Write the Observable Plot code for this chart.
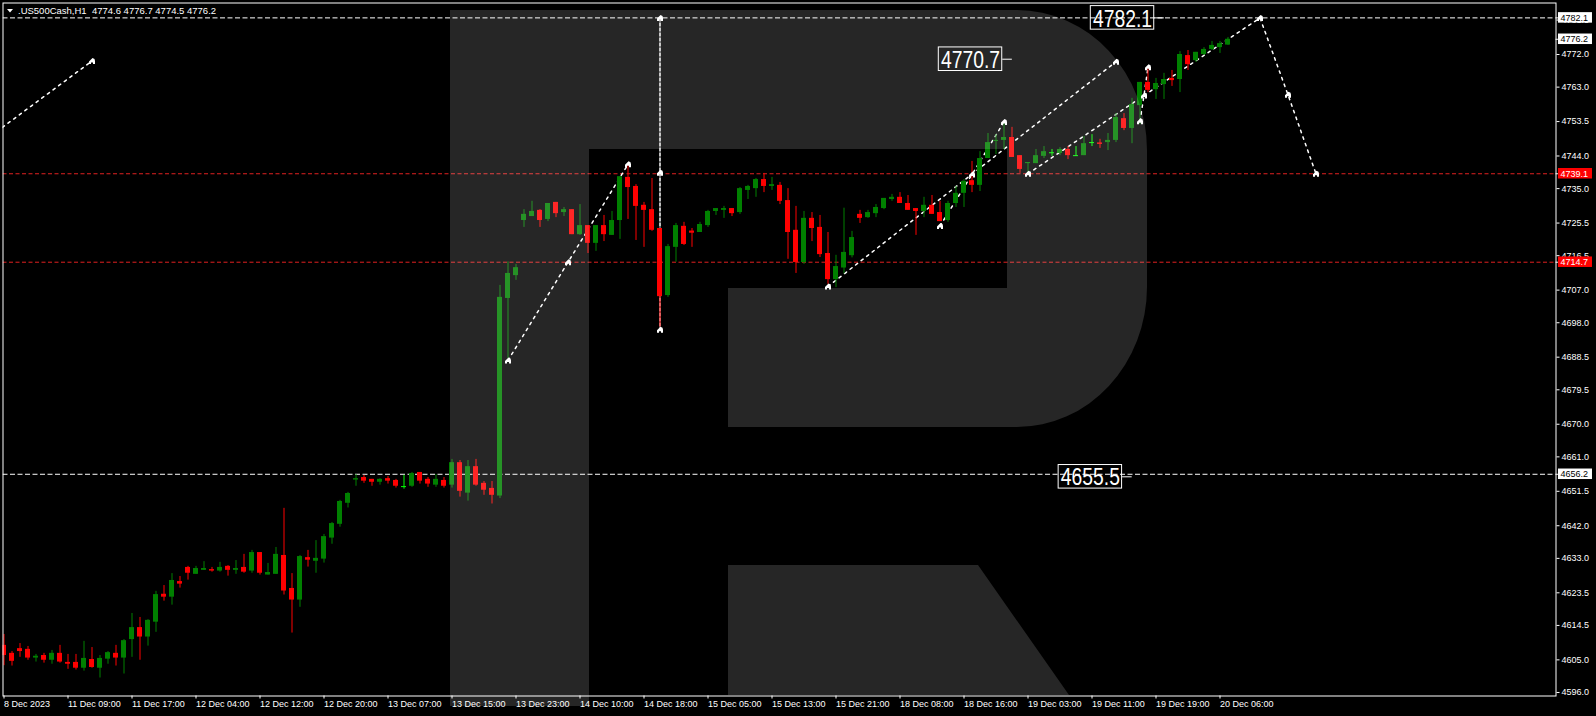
<!DOCTYPE html>
<html><head><meta charset="utf-8">
<script src="https://cdn.jsdelivr.net/npm/d3@7"></script>
<script src="https://cdn.jsdelivr.net/npm/@observablehq/plot@0.6"></script>
<style>
html,body{margin:0;padding:0;background:#000;overflow:hidden;}
#wrap{position:relative;width:1596px;height:716px;background:#000;}
#wrap svg{position:absolute;left:0;top:0;}
</style></head><body><div id="wrap"></div>
<script>
// ---- data (H1 candles, bar index 0..153) ----
const opens = [4609.0,4606.8,4608.1,4607.9,4605.5,4606.2,4604.9,4606.8,4604.3,4604.3,
4602.7,4605.1,4602.7,4605.2,4606.8,4605.5,4610.6,4613.9,4611.3,4615.4,
4623.1,4622.3,4626.6,4630.5,4628.6,4629.7,4629.9,4629.5,4630.8,4629.7,
4630.5,4629.5,4634.6,4628.4,4628.6,4633.8,4624.7,4621.5,4633.2,4632.2,
4632.8,4638.6,4642.4,4648.2,4654.6,4655.3,4654.8,4654.0,4655.0,4654.5,
4652.8,4652.9,4656.7,4654.8,4653.2,4654.5,4653.2,4659.4,4651.0,4658.3,
4653.7,4652.3,4650.2,4704.7,4711.0,4726.2,4727.3,4729.0,4726.5,4731.2,
4728.4,4729.2,4722.3,4724.8,4719.9,4724.8,4722.1,4726.2,4738.1,4735.6,
4730.4,4729.2,4724.0,4705.5,4718.8,4724.6,4723.3,4722.9,4724.8,4728.7,
4729.0,4729.5,4728.4,4734.5,4735.0,4737.5,4735.6,4735.9,4731.7,4723.5,
4714.6,4726.8,4724.3,4717.1,4709.9,4713.1,4716.5,4727.9,4727.0,4728.1,
4729.5,4732.0,4732.6,4730.9,4729.5,4728.7,4730.4,4728.4,4726.2,4730.9,
4733.7,4737.2,4735.9,4743.3,4748.0,4748.3,4749.1,4744.1,4741.9,4741.9,
4743.9,4744.9,4744.7,4745.8,4744.1,4744.1,4747.7,4747.6,4747.7,4748.3,
4754.3,4751.6,4757.9,4764.3,4762.3,4763.7,4765.4,4765.1,4771.7,4770.3,
4772.0,4773.4,4773.9,4774.6];
const highs = [4612.0,4607.3,4609.5,4608.7,4606.5,4606.8,4607.6,4609.0,4606.5,4606.5,
4610.1,4608.4,4606.2,4607.3,4609.0,4610.6,4617.8,4616.7,4616.1,4623.9,
4625.5,4628.8,4628.0,4630.8,4630.8,4632.1,4630.5,4631.9,4631.0,4632.4,
4634.1,4635.2,4634.6,4631.6,4636.0,4646.8,4628.8,4633.8,4635.2,4637.9,
4639.6,4642.9,4649.0,4651.2,4656.1,4655.9,4654.8,4655.0,4655.6,4654.8,
4655.9,4656.7,4656.7,4655.3,4656.1,4655.3,4660.3,4660.0,4660.0,4660.3,
4654.2,4654.2,4708.3,4714.8,4714.1,4729.2,4731.5,4729.2,4730.9,4731.2,
4729.8,4729.2,4730.6,4724.8,4724.8,4727.6,4728.7,4738.3,4741.4,4736.1,
4731.2,4737.8,4724.0,4719.6,4725.4,4725.7,4724.0,4725.7,4729.0,4729.5,
4730.1,4729.5,4735.3,4735.9,4737.8,4739.2,4738.1,4736.7,4735.0,4730.1,
4728.7,4728.4,4727.6,4722.9,4716.6,4729.6,4723.2,4729.0,4729.0,4730.6,
4732.3,4733.4,4733.9,4733.1,4729.5,4732.6,4733.1,4731.5,4731.5,4735.6,
4737.5,4742.5,4745.2,4750.2,4749.9,4753.0,4751.9,4744.1,4742.2,4745.8,
4746.6,4745.8,4746.3,4746.6,4746.6,4749.4,4749.9,4748.6,4750.2,4755.7,
4755.7,4759.9,4764.3,4768.7,4765.4,4766.8,4767.6,4772.8,4773.1,4772.6,
4773.9,4775.6,4775.6,4776.7];
const lows = [4603.4,4603.3,4605.7,4604.9,4604.4,4604.1,4603.8,4604.1,4602.4,4602.2,
4601.9,4602.7,4600.0,4603.8,4603.3,4601.1,4605.7,4604.9,4608.8,4612.6,
4621.2,4620.1,4624.8,4627.0,4628.6,4629.7,4629.2,4629.2,4628.1,4628.6,
4628.9,4628.9,4628.4,4628.4,4628.6,4622.9,4612.4,4619.5,4630.6,4628.9,
4631.7,4636.9,4641.6,4646.9,4652.9,4653.7,4652.9,4653.2,4653.5,4652.4,
4652.1,4652.6,4653.5,4652.6,4652.6,4652.4,4652.4,4649.9,4648.8,4652.9,
4650.4,4648.0,4649.5,4688.1,4709.7,4724.3,4727.3,4724.3,4725.9,4727.0,
4727.3,4722.3,4722.1,4717.1,4717.7,4720.4,4722.1,4721.0,4726.5,4720.7,
4718.8,4723.2,4696.8,4705.0,4714.7,4719.3,4718.8,4722.9,4724.3,4727.6,
4726.8,4727.3,4727.9,4732.0,4732.6,4733.9,4734.5,4730.6,4715.5,4711.6,
4714.1,4720.4,4716.0,4708.6,4707.7,4711.5,4715.9,4725.4,4726.8,4727.0,
4729.2,4731.5,4730.9,4729.0,4722.1,4727.0,4727.9,4725.9,4725.7,4729.8,
4729.8,4733.9,4734.2,4743.3,4744.4,4745.8,4743.6,4739.2,4739.2,4741.9,
4743.3,4743.9,4744.1,4743.0,4743.9,4744.1,4746.6,4746.1,4745.5,4747.7,
4751.0,4747.4,4752.7,4761.5,4759.6,4759.6,4763.2,4761.5,4767.6,4769.8,
4771.7,4773.1,4772.3,4774.5];
const closes = [4606.2,4604.6,4607.3,4605.5,4606.0,4604.9,4606.8,4604.4,4603.8,4602.7,
4605.4,4602.9,4605.4,4607.0,4605.5,4610.3,4613.9,4611.3,4615.9,4623.0,
4622.3,4626.9,4625.9,4628.9,4630.2,4630.2,4629.5,4630.5,4629.7,4630.2,
4629.2,4634.6,4628.9,4629.1,4634.1,4624.0,4621.5,4633.5,4632.5,4633.0,
4639.0,4642.6,4648.7,4650.9,4655.0,4654.3,4654.0,4654.8,4654.3,4652.9,
4652.8,4656.4,4654.3,4653.5,4654.8,4652.9,4659.4,4651.5,4658.3,4653.2,
4651.8,4650.4,4705.0,4711.6,4713.2,4727.9,4728.7,4726.2,4730.9,4728.1,
4729.2,4722.3,4724.8,4719.9,4724.8,4722.3,4726.2,4738.3,4735.3,4730.1,
4729.0,4723.5,4705.2,4719.0,4724.8,4719.6,4722.7,4725.1,4728.7,4729.5,
4729.5,4728.1,4735.0,4735.6,4737.5,4735.6,4736.1,4731.5,4722.9,4714.6,
4726.8,4724.0,4716.8,4709.9,4713.5,4717.4,4721.5,4726.8,4728.4,4729.8,
4732.3,4732.6,4730.9,4729.0,4728.7,4730.4,4727.9,4725.9,4730.9,4733.7,
4737.0,4735.9,4743.3,4747.7,4748.3,4749.1,4743.6,4740.3,4742.2,4744.1,
4745.2,4744.9,4745.8,4744.1,4744.1,4747.4,4747.7,4747.2,4748.3,4754.6,
4751.6,4758.2,4764.3,4762.1,4764.0,4765.1,4764.8,4772.0,4769.2,4772.6,
4773.4,4774.5,4775.0,4776.2];

const timeLabels = ["8 Dec 2023","11 Dec 09:00","11 Dec 17:00","12 Dec 04:00","12 Dec 12:00","12 Dec 20:00","13 Dec 07:00","13 Dec 15:00","13 Dec 23:00","14 Dec 10:00","14 Dec 18:00","15 Dec 05:00","15 Dec 13:00","15 Dec 21:00","18 Dec 08:00","18 Dec 16:00","19 Dec 03:00","19 Dec 11:00","19 Dec 19:00","20 Dec 06:00"];
const timeLabelBars = [0,8,16,24,32,40,48,56,64,72,80,88,96,104,112,120,128,136,144,152];
const priceTicks = [4596.0,4605.0,4614.5,4623.5,4633.0,4642.0,4651.5,4661.0,4670.0,4679.5,4688.5,4698.0,4707.0,4716.5,4725.5,4735.0,4744.0,4753.5,4763.0,4772.0,4781.5];

// horizontal levels
const whiteLevels = [4782.1, 4656.2];
const redLevels = [4739.1, 4714.7];

// forecast paths
const fcPath  = ["a","a","b","b","b","d","d","e","e","e","f","f","f","f","f","g","g","g"];
const fcBar   = [-0.2,11, 63,70.5,78, 103,139, 117,121,125, 128,142.5,157,160.5,164, 142,142.5,143];
const fcPrice = [4751.9,4770.2, 4687.6,4714.7,4741.7, 4708.0,4770.0, 4724.7,4738.9,4753.4, 4739.1,4760.7,4782.1,4760.9,4739.1, 4753.6,4760.7,4768.5];
const vBar = [82, 82];
const vPrice = [4782.1, 4696.1];
const markerBar   = [11,63,70.5,78,82,82,82,103,139,117,121,125,128,142,142.5,143,157,160.5,164];
const markerPrice = [4770.2,4687.6,4714.7,4741.7,4782.1,4739.4,4696.1,4708.0,4770.0,4724.7,4738.9,4753.4,4739.1,4753.6,4760.7,4768.5,4782.1,4760.9,4739.1];

// boxed price annotations
const annotText = ["4782.1","4770.7","4655.5"];
const annotPrice = [4782.1, 4770.7, 4655.5];
const annotEndBar = [143.78, 124.78, 139.76];

// right-axis price tags
const tagPrice = [4782.1, 4776.2, 4739.1, 4714.7, 4656.2];
const tagKind  = ["white","white","red","red","white"];

const header = ".US500Cash,H1  4774.6 4776.7 4774.5 4776.2";

// ---- build ----
const bars = opens.map((o,i)=>({i, open:o, high:highs[i], low:lows[i], close:closes[i]}));
const candleColor = d => d.close > d.open ? "#008000" : d.close < d.open ? "#ff0000" : "#00ff00";
const bodies = bars.filter(d => d.open !== d.close);
const dojis = bars.filter(d => d.open === d.close);
const fc = fcBar.map((b,k)=>({path:fcPath[k], bar:b, price:fcPrice[k]}));
const vline = vBar.map((b,k)=>({bar:b, price:vPrice[k]}));
const markers = markerBar.map((b,k)=>({bar:b, price:markerPrice[k]}));
const annots = annotText.map((t,k)=>({label:t, price:annotPrice[k], end:annotEndBar[k]}));
const tags = tagPrice.map((p,k)=>({price:p, kind:tagKind[k], label:p.toFixed(1)}));

const BW = 0.3125;       // half body width in bars
const BOXW = 7.93;       // annotation box width in bars
const BOXH = 3.25;       // annotation box half height in price
const TAG_X1 = 194.31, TAG_X2 = 198.56, TAG_H = 1.45;

const markSymbol = {draw(ctx){
  ctx.moveTo(-3,3); ctx.lineTo(-3,0.5); ctx.lineTo(-1,-1.5); ctx.lineTo(0.5,-3);
  ctx.lineTo(2.5,-2); ctx.lineTo(3,0); ctx.lineTo(3,3); ctx.lineTo(1,3);
  ctx.lineTo(1,1.5); ctx.lineTo(-1,1.5); ctx.lineTo(-1,3); ctx.closePath();
}};

const chart = Plot.plot({
  width: 1596, height: 716,
  marginLeft: 2.5, marginRight: 40.5, marginTop: 2.5, marginBottom: 20.5,
  style: {background: "transparent", color: "#fff", fontFamily: "'Liberation Sans', Arial, sans-serif", fontSize: "9px"},
  x: {type: "linear", domain: [-0.125, 194]},
  y: {type: "linear", domain: [4595.034, 4786.207]},
  marks: [
    Plot.ruleY(redLevels, {y: d => d, stroke: "#e02020", strokeDasharray: "4,2.5", clip: true}),
    Plot.ruleY(whiteLevels, {y: d => d, stroke: "#fff", strokeDasharray: "5,2.5", clip: true}),
    Plot.line(vline, {x: "bar", y: "price", stroke: "#fff", strokeDasharray: "3,2", clip: true}),
    Plot.line(fc, {x: "bar", y: "price", z: "path", stroke: "#fff", strokeDasharray: "2.5,4.5", clip: true}),
    Plot.ruleX(bars, {x: "i", y1: "low", y2: "high", stroke: candleColor, clip: true}),
    Plot.rect(bodies, {x1: d => d.i - BW, x2: d => d.i + BW, y1: "open", y2: "close", fill: candleColor, clip: true}),
    Plot.ruleY(dojis, {y: "close", x1: d => d.i - BW, x2: d => d.i + BW, stroke: "#00ff00", clip: true}),
    Plot.dot(markers, {x: "bar", y: "price", symbol: markSymbol, fill: "#fff", stroke: "none", clip: true}),
    Plot.rect(annots, {x1: d => d.end - BOXW, x2: "end", y1: d => d.price - BOXH, y2: d => d.price + BOXH, fill: "none", stroke: "#fff"}),
    Plot.text(annots, {x: d => d.end - BOXW/2, y: "price", text: "label", fill: "#fff", fontSize: 24, fontFamily: "'Liberation Sans', Arial, sans-serif", dy: 1}),
    Plot.link(annots, {x1: "end", x2: d => d.end + 1.2, y1: "price", y2: "price", stroke: "#fff"}),
    Plot.frame({stroke: "#fff"}),
    Plot.axisY(priceTicks, {anchor: "right", tickSize: 3, tickPadding: 2.5, tickFormat: d => d.toFixed(1), label: null, fill: "#fff"}),
    Plot.axisX(timeLabelBars, {anchor: "bottom", tickSize: 3, tickPadding: 2, tickFormat: d => timeLabels[timeLabelBars.indexOf(d)], textAnchor: "start", dx: 0, label: null, fill: "#fff"}),
    Plot.ruleY(tags, {y: "price", x1: 194, x2: TAG_X1, stroke: "#fff"}),
    Plot.rect(tags, {x1: TAG_X1, x2: TAG_X2, y1: d => d.price - TAG_H, y2: d => d.price + TAG_H, fill: d => d.kind === "red" ? "#ff0000" : "#fff"}),
    Plot.text(tags, {x: TAG_X1 + 0.25, y: "price", text: "label", textAnchor: "start", fill: d => d.kind === "red" ? "#fff" : "#000", fontSize: 9})
  ]
});
// narrow the large boxed labels so they fit their boxes like the original terminal font
chart.querySelectorAll("text").forEach(t => {
  if (annotText.includes(t.textContent) && t.parentNode.getAttribute("font-size") === "24") {
    t.setAttribute("textLength", 59);
    t.setAttribute("lengthAdjust", "spacingAndGlyphs");
  }
});
document.getElementById("wrap").appendChild(chart);

// watermark overlay + header (decoration)
const ns = "http://www.w3.org/2000/svg";
const ov = document.createElementNS(ns, "svg");
ov.setAttribute("width", 1596); ov.setAttribute("height", 716);
ov.style.pointerEvents = "none";
const wm = document.createElementNS(ns, "path");
wm.setAttribute("d",
  "M450,10H589V706H450Z " +
  "M589,10H1017A130,140 0 0 1 1147,150V287A130,140 0 0 1 1017,427H728V288H1007V149H589Z " +
  "M728,565H978L1069,695H728Z");
wm.setAttribute("fill", "#fff");
wm.setAttribute("fill-opacity", "0.15");
ov.appendChild(wm);
const tri = document.createElementNS(ns, "path");
tri.setAttribute("d", "M7,9H13L10,12.5Z");
tri.setAttribute("fill", "#fff");
ov.appendChild(tri);
const ht = document.createElementNS(ns, "text");
ht.setAttribute("x", 18); ht.setAttribute("y", 14);
ht.setAttribute("fill", "#fff");
ht.setAttribute("font-family", "'Liberation Sans', Arial, sans-serif");
ht.setAttribute("font-size", "9.5px");
ht.style.whiteSpace = "pre";
ht.textContent = header;
ov.appendChild(ht);
document.getElementById("wrap").appendChild(ov);
</script>
</body></html>
